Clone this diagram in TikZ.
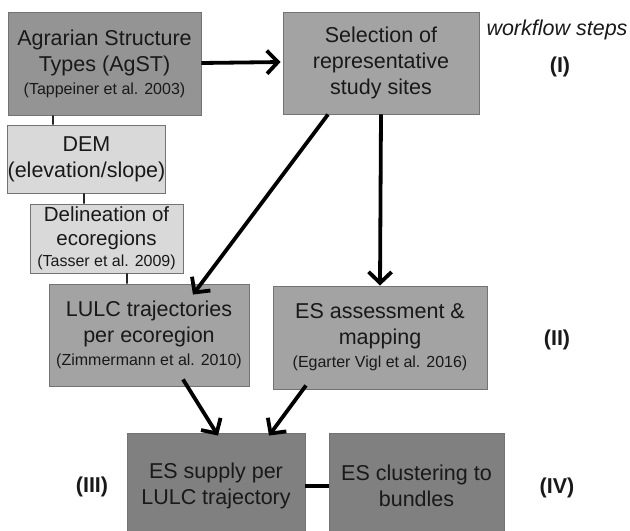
\documentclass[tikz,border=0pt]{standalone}
\usepackage{fontspec}
\setmainfont{Liberation Sans}
\usetikzlibrary{arrows.meta}
\newcommand\refline[1]{{\fontsize{16bp}{19bp}\selectfont #1}}
\begin{document}
\begin{tikzpicture}[x=1bp,y=-1bp,
  box/.style={draw=black!55, line width=0.9bp, rectangle, align=center, inner sep=0pt,
    font=\fontsize{21.5bp}{26bp}\selectfont, text=black!90},
  dark/.style={box, fill=black!42},
  mid/.style={box, fill=black!36},
  light/.style={box, fill=black!15},
  darker/.style={box, fill=black!50},
  arr/.style={line width=3.8bp, -{Straight Barb[length=11bp,width=23bp,line width=3.8bp]}},
  thin/.style={line width=1.6bp, black!85},
  stepl/.style={font=\fontsize{21.5bp}{26bp}\selectfont\bfseries, text=black!90}
]
\useasboundingbox (0,0) rectangle (630,531);
\clip (0,0) rectangle (630,531);
\node[dark, minimum width=193bp, minimum height=103bp] (agst) at (104.5,63.5)
  {Agrarian Structure\\Types (AgST)\\[-3bp]\refline{(Tappeiner et al. 2003)}};
\node[mid, minimum width=196bp, minimum height=102bp] (sel) at (381,63)
  {Selection of\\representative\\study sites};
\node[light, minimum width=157bp, minimum height=68bp] (dem) at (86.5,159)
  {DEM\\(elevation/slope)};
\node[light, minimum width=153bp, minimum height=69bp, font=\fontsize{20.5bp}{24bp}\selectfont] (del) at (106.5,238.5)
  {Delineation of\\ecoregions\\[-3bp]\refline{(Tasser et al. 2009)}};
\node[mid, minimum width=200bp, minimum height=102bp] (lulc) at (149,335)
  {LULC trajectories\\per ecoregion\\[-3bp]\refline{(Zimmermann et al. 2010)}};
\node[mid, minimum width=214bp, minimum height=103bp] (esa) at (380,337.5)
  {ES assessment \&\\mapping\\[-3bp]\refline{(Egarter Vigl et al. 2016)}};
\node[darker, minimum width=178bp, minimum height=106bp] (sup) at (216,486)
  {ES supply per\\LULC trajectory};
\node[darker, minimum width=175bp, minimum height=106bp] (clu) at (416.5,486)
  {ES clustering to\\bundles};
\node[font=\fontsize{21.5bp}{26bp}\selectfont\itshape, text=black!90] (wf) at (557,30) {workflow steps};
\node[stepl] (s1) at (560,67) {(I)};
\node[stepl] (s2) at (557,340) {(II)};
\node[stepl] (s3) at (92,487) {(III)};
\node[stepl] (s4) at (557,488) {(IV)};
% connectors
\draw[arr, shorten >=2bp] ([yshift=0.5bp]agst.east) -- ([yshift=1bp]sel.west);
\draw[arr] ([xshift=-53bp]sel.south) -- ([xshift=44bp,yshift=-11bp]lulc.north);
\draw[arr] (sel.south) -- (esa.north);
\draw[arr] ([xshift=34bp,yshift=7bp]lulc.south) -- ([xshift=2bp,yshift=-3bp]sup.north);
\draw[arr] ([xshift=-74bp,yshift=4bp]esa.south) -- ([xshift=53bp,yshift=-3bp]sup.north);
\draw[thin] ([xshift=-51.5bp]agst.south) -- ([xshift=-33.5bp]dem.north);
\draw[thin] ([xshift=-2.5bp]dem.south) -- ([xshift=-22.5bp]del.north);
\draw[thin] ([xshift=20.5bp]del.south) -- ([xshift=-22bp]lulc.north);
\draw[line width=4bp] (sup.east) -- (clu.west);
\end{tikzpicture}
\end{document}
